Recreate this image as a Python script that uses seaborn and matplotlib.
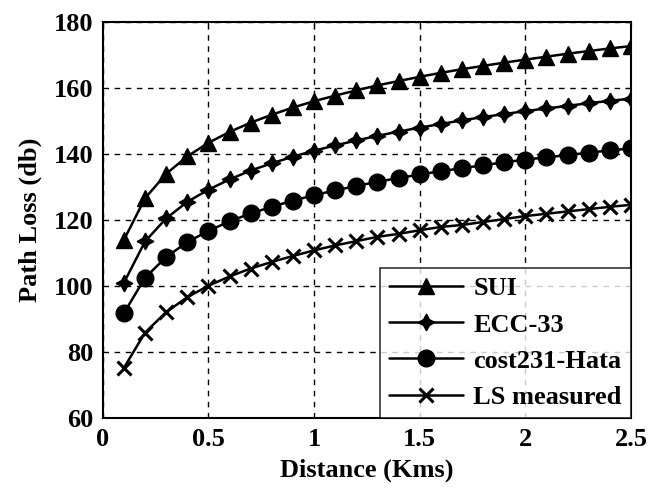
import matplotlib
matplotlib.use("Agg")
import matplotlib.pyplot as plt
import seaborn as sns
import pandas as pd

distance = [0.1, 0.2, 0.3, 0.4, 0.5, 0.6, 0.7, 0.8, 0.9, 1.0, 1.1, 1.2, 1.3,
            1.4, 1.5, 1.6, 1.7, 1.8, 1.9, 2.0, 2.1, 2.2, 2.3, 2.4, 2.5]
sui = [114.0, 126.6, 134.0, 139.3, 143.4, 146.7, 149.5, 151.9, 154.1, 156.0,
       157.7, 159.3, 160.8, 162.1, 163.4, 164.6, 165.7, 166.7, 167.7, 168.6,
       169.5, 170.4, 171.2, 172.0, 172.7]
ecc33 = [101.0, 113.5, 120.5, 125.5, 129.2, 132.3, 135.0, 137.2, 139.2, 141.0,
         142.6, 144.1, 145.5, 146.8, 148.0, 149.1, 150.2, 151.2, 152.1, 153.0,
         153.8, 154.6, 155.4, 156.1, 156.8]
cost231 = [91.8, 102.5, 108.8, 113.3, 116.7, 119.6, 122.0, 124.0, 125.9, 127.5,
           129.0, 130.3, 131.6, 132.7, 133.8, 134.8, 135.7, 136.6, 137.5, 138.3,
           139.0, 139.7, 140.4, 141.1, 141.7]
ls_measured = [75.2, 85.9, 92.1, 96.6, 100.1, 102.9, 105.3, 107.3, 109.1, 110.8,
               112.3, 113.6, 114.9, 115.8, 116.9, 117.9, 118.5, 119.4, 120.3, 121.2,
               121.9, 122.6, 123.3, 124.0, 124.6]
series_names = ["SUI", "ECC-33", "cost231-Hata", "LS measured"]
x_ticks = [0, 0.5, 1, 1.5, 2, 2.5]
x_tick_labels = ["0", "0.5", "1", "1.5", "2", "2.5"]
y_ticks = [60, 80, 100, 120, 140, 160, 180]

sns.set_style("white")
plt.rcParams["font.family"] = ["Liberation Serif", "DejaVu Serif"]
plt.rcParams["font.weight"] = "bold"
plt.rcParams["text.color"] = "black"
plt.rcParams["axes.labelcolor"] = "black"

fig = plt.figure(figsize=(6.59, 4.98), dpi=100)
ax = fig.add_axes([0.156, 0.1606, 0.8015, 0.7952])

styles = [
    (sui, "^", 12),
    (ecc33, (4, 1, 0), 12),
    (cost231, "o", 12),
    (ls_measured, "x", 10),
]
for name, (vals, mk, ms) in zip(series_names, styles):
    df = pd.DataFrame({"d": distance, "pl": vals})
    sns.lineplot(data=df, x="d", y="pl", ax=ax, color="black", linewidth=1.8,
                 marker=mk, markersize=ms, markeredgewidth=2.2 if mk == "x" else 1,
                 markerfacecolor="black", markeredgecolor="black", label=name)

ax.set_xlim(0, 2.5)
ax.set_ylim(60, 180)
ax.set_xticks(x_ticks)
ax.set_xticklabels(x_tick_labels)
ax.set_yticks(y_ticks)
ax.tick_params(axis="both", labelsize=19, direction="in", length=4,
               top=True, right=True, pad=7, colors="black")
for lab in ax.get_xticklabels() + ax.get_yticklabels():
    lab.set_fontweight("bold")
ax.grid(True, color="black", linestyle=(0, (4, 4)), linewidth=1)
for s in ax.spines.values():
    s.set_color("black")
    s.set_linewidth(1.5)
    s.set_visible(True)

ax.set_xlabel("Distance (Kms)", fontsize=19, fontweight="bold", labelpad=6,
              color="black")
ax.set_ylabel("Path Loss (db)", fontsize=19, fontweight="bold", labelpad=8,
              color="black")

leg = ax.legend(loc="lower right", borderaxespad=0, fontsize=19, frameon=True,
                fancybox=False, edgecolor="black", handlelength=2.8,
                labelspacing=0.48, handletextpad=0.4, borderpad=0.35)
leg.get_frame().set_linewidth(1.2)
for t in leg.get_texts():
    t.set_fontweight("bold")
    t.set_color("black")

fig.savefig("out.png", dpi=100)
